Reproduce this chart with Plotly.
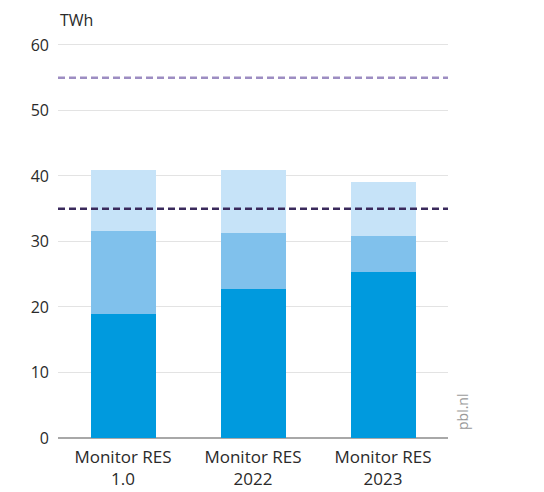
import plotly.graph_objects as go

categories = ["Monitor RES<br>1.0", "Monitor RES<br>2022", "Monitor RES<br>2023"]
seg_base = [19.0, 22.75, 25.4]
seg_mid = [12.6, 8.5, 5.45]
seg_top = [9.3, 9.65, 8.2]
target_high = 55
target_low = 35
y_ticks = [0, 10, 20, 30, 40, 50, 60]

colors = ["#009ade", "#80c1ec", "#c6e3f8"]

fig = go.Figure()
for vals, col in zip([seg_base, seg_mid, seg_top], colors):
    fig.add_trace(go.Bar(x=categories, y=vals, marker=dict(color=col, line=dict(width=0)),
                         showlegend=False, hoverinfo="skip"))

fig.add_shape(type="line", xref="paper", yref="y", x0=0, x1=1, y0=target_high, y1=target_high,
              line=dict(color="#9d8dc2", width=2.5, dash="7px,4px"))
fig.add_shape(type="line", xref="paper", yref="y", x0=0, x1=1, y0=target_low, y1=target_low,
              line=dict(color="#3a2a5c", width=2.5, dash="7px,4px"))

fig.update_layout(
    width=544, height=492,
    margin=dict(l=50, r=104, t=35, b=62),
    barmode="stack", bargap=0.5,
    plot_bgcolor="white", paper_bgcolor="white",
    font=dict(family="Open Sans", size=14, color="#333333"),
    xaxis=dict(showgrid=False, showline=False, ticks="", automargin=False,
               ticklabelstandoff=7, tickfont=dict(size=17, color="#2a2a2a")),
    yaxis=dict(range=[0, 60.3], tickvals=y_ticks, showgrid=True, gridcolor="#e3e3e3",
               gridwidth=1, zeroline=True, zerolinecolor="#a8a8a8", zerolinewidth=1.5,
               ticks="", ticklabelstandoff=8, automargin=False,
               tickfont=dict(size=16, color="#2a2a2a")),
    annotations=[
        dict(text="TWh", xref="paper", yref="paper", x=0, y=1, xshift=0, yshift=10,
             xanchor="left", yanchor="bottom", showarrow=False,
             font=dict(size=16, color="#2a2a2a")),
        dict(text="pbl.nl", xref="paper", yref="y", x=1, y=0, xshift=14, yshift=6,
             xanchor="center", yanchor="bottom", textangle=-90, showarrow=False,
             font=dict(size=14, color="#999999")),
    ],
)

fig.write_html("out.html")
